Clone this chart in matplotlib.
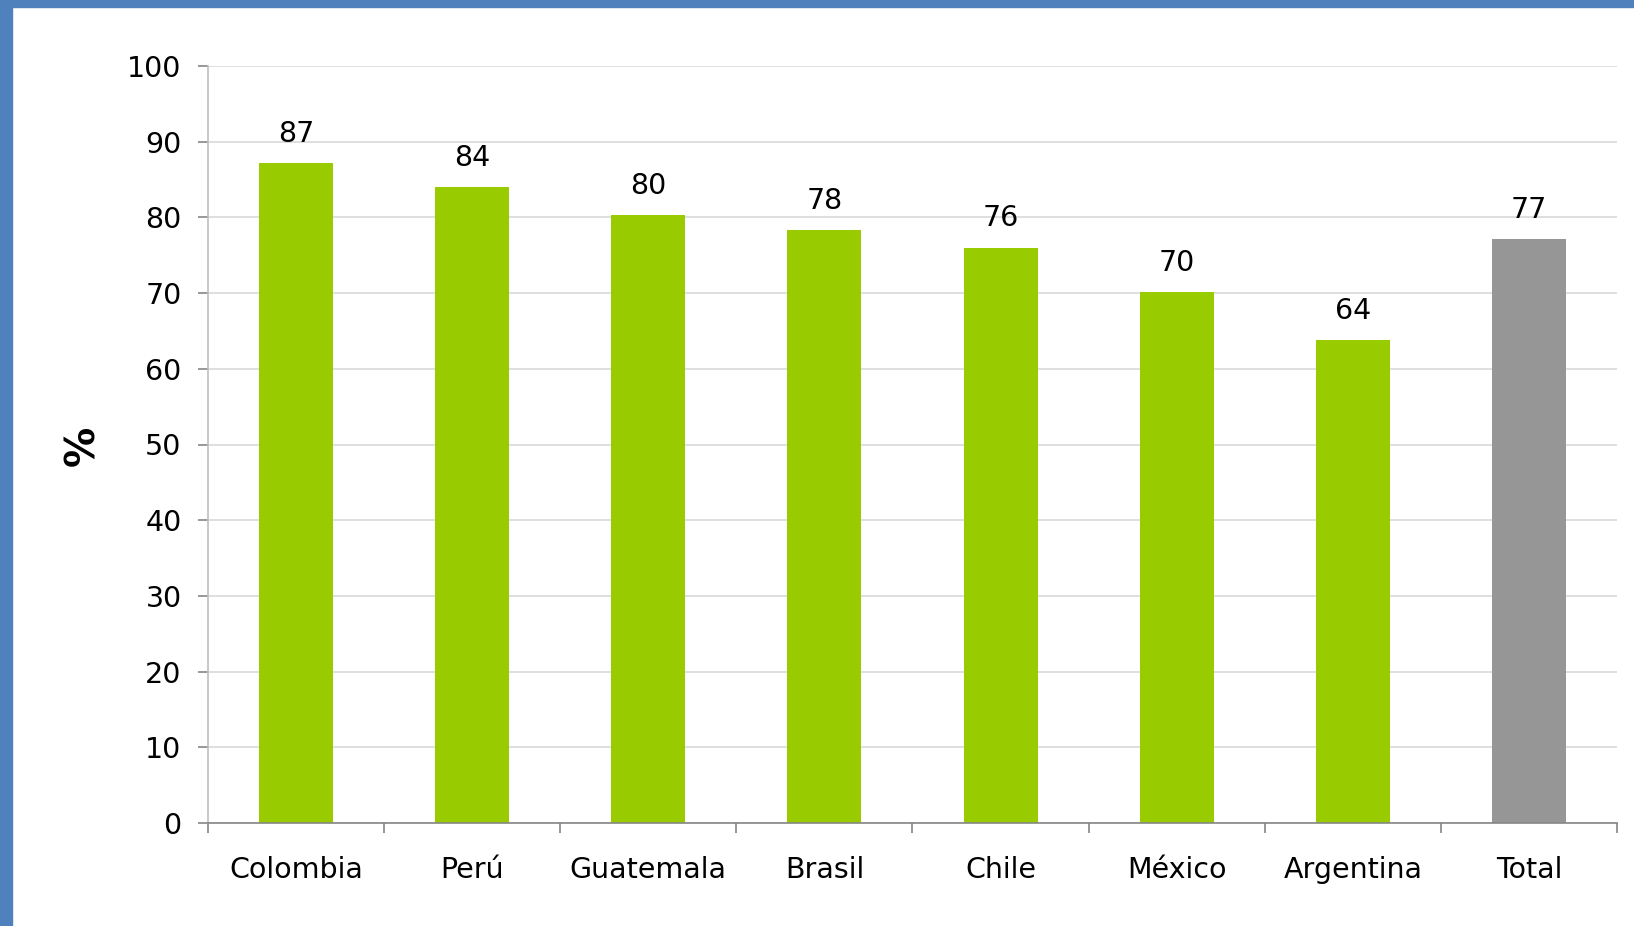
import matplotlib
matplotlib.use("Agg")
import matplotlib.pyplot as plt
from matplotlib.patches import Rectangle
import numpy as np

# %%
countries = ["Colombia", "Perú", "Guatemala", "Brasil", "Chile", "México", "Argentina", "Total"]
values = [87.2, 84.0, 80.3, 78.3, 76.0, 70.1, 63.8, 77.1]
colors = ["#99CC00"] * 7 + ["#969696"]
yticks = [0, 10, 20, 30, 40, 50, 60, 70, 80, 90, 100]

plt.rcParams["font.family"] = ["DejaVu Sans"]

# %%
W, H = 1634, 926
fig = plt.figure(figsize=(W / 100, H / 100), dpi=100)
fig.patch.set_facecolor("white")

# blue frame on the left and top
fig.patches.append(Rectangle((0, 0), 12 / W, 1, transform=fig.transFigure, color="#4F81BD", zorder=0))
fig.patches.append(Rectangle((0, 1 - 7 / H), 1, 7 / H, transform=fig.transFigure, color="#4F81BD", zorder=0))

ax = fig.add_axes([208 / W, 1 - 823 / H, (1617 - 208) / W, (823 - 66) / H])

x = np.arange(len(countries))
ax.bar(x, values, width=0.42, color=colors, zorder=2)
for xi, v in zip(x, values):
    ax.annotate(f"{v:.0f}", (xi, v), xytext=(0, 11), textcoords="offset points",
                ha="center", va="bottom", fontsize=20.5)

ax.set_xlim(-0.5, len(countries) - 0.5)
ax.set_ylim(0, 100)
ax.set_yticks(yticks)
ax.yaxis.grid(True, color="#D9D9D9", linewidth=1.2, zorder=0)
ax.set_axisbelow(True)

ax.set_xticks(np.arange(len(countries) + 1) - 0.5)
ax.set_xticklabels([])
ax.set_xticks(x, minor=True)
ax.set_xticklabels(countries, minor=True)
ax.tick_params(axis="x", which="major", length=7, width=1.2, color="#868686", direction="out")
ax.tick_params(axis="x", which="minor", length=0, pad=24, labelsize=20.5)
ax.tick_params(axis="y", length=7, width=1.2, color="#868686", labelsize=20.5, pad=12)

for s in ["top", "right"]:
    ax.spines[s].set_visible(False)
ax.spines["left"].set_color("#BFBFBF")
ax.spines["left"].set_linewidth(1.2)
ax.spines["bottom"].set_color("#868686")
ax.spines["bottom"].set_linewidth(1.2)

fig.text(83 / W, 1 - 446 / H, "%", rotation=90, ha="center", va="center",
         fontsize=29, fontweight="bold")

fig.savefig("out.png", dpi=100)
